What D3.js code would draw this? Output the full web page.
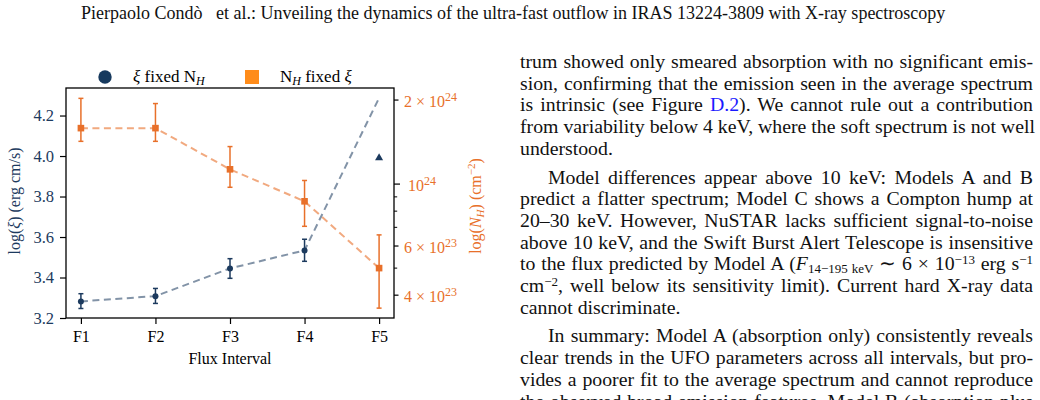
<!DOCTYPE html>
<html lang="en">
<head>
<meta charset="UTF-8"/>
<title>UFO flux intervals</title>
<script src="https://d3js.org/d3.v7.min.js"></script>
<style>
  body { margin: 0; background: #fff; width: 1040px; height: 400px; overflow: hidden; position: relative; font-family: "Liberation Serif", "Times New Roman", serif; }
  svg { position: absolute; left: 0; top: 0; }
  .header { position: absolute; left: 81px; top: 3px; font-size: 18px; white-space: pre; color: #111; }
  .col { position: absolute; left: 520px; top: 51px; width: 513px; font-size: 19.8px; line-height: 21.7px; color: #111; }
  .col .ln { white-space: nowrap; text-align: justify; text-align-last: justify; }
  .col .last { text-align-last: left; }
  .col .gap { margin-top: 7px; }
  .col .ind { padding-left: 28px; }
  .col sub, .col sup { line-height: 0; font-size: 13px; }
  .col sub { vertical-align: -3px; }
  .col sup { vertical-align: 6px; }
  .blue { color: #1a1aff; }
</style>
</head>
<body>

<div class="header">Pierpaolo Condò   et al.: Unveiling the dynamics of the ultra-fast outflow in IRAS 13224-3809 with X-ray spectroscopy</div>

<div class="col">
  <div class="ln">trum showed only smeared absorption with no significant emis-</div>
  <div class="ln">sion, confirming that the emission seen in the average spectrum</div>
  <div class="ln">is intrinsic (see Figure <span class="blue">D.2</span>). We cannot rule out a contribution</div>
  <div class="ln">from variability below 4 keV, where the soft spectrum is not well</div>
  <div class="ln last">understood.</div>
  <div class="ln gap ind">Model differences appear above 10 keV: Models A and B</div>
  <div class="ln">predict a flatter spectrum; Model C shows a Compton hump at</div>
  <div class="ln">20–30 keV. However, NuSTAR lacks sufficient signal-to-noise</div>
  <div class="ln">above 10 keV, and the Swift Burst Alert Telescope is insensitive</div>
  <div class="ln">to the flux predicted by Model A (<i>F</i><sub>14−195 keV</sub> ∼ 6 × 10<sup>−13</sup> erg s<sup>−1</sup></div>
  <div class="ln">cm<sup>−2</sup>, well below its sensitivity limit). Current hard X-ray data</div>
  <div class="ln last">cannot discriminate.</div>
  <div class="ln gap ind">In summary: Model A (absorption only) consistently reveals</div>
  <div class="ln">clear trends in the UFO parameters across all intervals, but pro-</div>
  <div class="ln">vides a poorer fit to the average spectrum and cannot reproduce</div>
  <div class="ln">the observed broad emission features. Model B (absorption plus</div>
</div>

<script>
// data
var intervals = ["F1", "F2", "F3", "F4", "F5"];

// log(xi) with fixed NH; F5 has only a limit (triangle), the line runs to xiLine[4]
var xiLine  = [3.282, 3.308, 3.445, 3.534, 4.287];
var xiVal   = [3.282, 3.308, 3.445, 3.534];
var xiLo    = [3.247, 3.272, 3.396, 3.480];
var xiHi    = [3.320, 3.346, 3.493, 3.589];
var xiLimit = 3.995;

// NH with fixed xi (cm^-2)
var nhVal = [1.58e24, 1.58e24, 1.125e24, 8.64e23, 4.98e23];
var nhLo  = [1.417e24, 1.417e24, 9.7e23, 7.03e23, 3.58e23];
var nhHi  = [2.02e24, 1.935e24, 1.357e24, 1.026e24, 6.55e23];

var xiTicks = [3.2, 3.4, 3.6, 3.8, 4.0, 4.2];
var nhLabelTicks = [4e23, 6e23, 1e24, 2e24];
var nhMinorTicks = [5e23, 7e23, 8e23, 9e23];

var navy = "#1c3a5e";
var orange = "#e8702a";

// plot box (note: "top" is taken by window.top)
var pl = 66, pr = 394, pt = 88, pb = 318;

var svg = d3.select("body").append("svg")
    .attr("width", 1040)
    .attr("height", 400)
    .style("font-family", "'Liberation Serif', 'Times New Roman', serif");

var x = d3.scalePoint().domain(intervals).range([pl, pr]).padding(0.2);
var yXi = d3.scaleLinear().domain([3.2, 4.336]).range([pb, pt]);
var yNh = d3.scaleLog().domain([3.30e23, 2.2e24]).range([pb, pt]);

// orange series (behind)
var nhLine = d3.line()
    .x(function(d, i) { return x(intervals[i]); })
    .y(function(d) { return yNh(d); });

svg.append("path")
    .datum(nhVal)
    .attr("d", nhLine)
    .attr("fill", "none")
    .attr("stroke", orange)
    .attr("stroke-opacity", 0.6)
    .attr("stroke-width", 2)
    .attr("stroke-dasharray", "7,4.5");

var nhG = svg.append("g");
nhVal.forEach(function(v, i) {
    var cx = x(intervals[i]);
    nhG.append("line").attr("x1", cx).attr("x2", cx)
        .attr("y1", yNh(nhLo[i])).attr("y2", yNh(nhHi[i]))
        .attr("stroke", orange).attr("stroke-width", 1.5);
    [nhLo[i], nhHi[i]].forEach(function(e) {
        nhG.append("line").attr("x1", cx - 2.5).attr("x2", cx + 2.5)
            .attr("y1", yNh(e)).attr("y2", yNh(e))
            .attr("stroke", orange).attr("stroke-width", 1.5);
    });
    nhG.append("rect")
        .attr("x", cx - 3.3).attr("y", yNh(v) - 3.3)
        .attr("width", 6.6).attr("height", 6.6)
        .attr("fill", orange);
});

// blue series
var xiPath = d3.line()
    .x(function(d, i) { return x(intervals[i]); })
    .y(function(d) { return yXi(d); });

svg.append("path")
    .datum(xiLine)
    .attr("d", xiPath)
    .attr("fill", "none")
    .attr("stroke", navy)
    .attr("stroke-opacity", 0.55)
    .attr("stroke-width", 2)
    .attr("stroke-dasharray", "7,4.5");

var xiG = svg.append("g");
xiVal.forEach(function(v, i) {
    var cx = x(intervals[i]);
    xiG.append("line").attr("x1", cx).attr("x2", cx)
        .attr("y1", yXi(xiLo[i])).attr("y2", yXi(xiHi[i]))
        .attr("stroke", navy).attr("stroke-width", 1.5);
    [xiLo[i], xiHi[i]].forEach(function(e) {
        xiG.append("line").attr("x1", cx - 2.5).attr("x2", cx + 2.5)
            .attr("y1", yXi(e)).attr("y2", yXi(e))
            .attr("stroke", navy).attr("stroke-width", 1.5);
    });
    xiG.append("circle")
        .attr("cx", cx).attr("cy", yXi(v)).attr("r", 3)
        .attr("fill", navy);
});

svg.append("path")
    .attr("d", d3.symbol().type(d3.symbolTriangle).size(28))
    .attr("transform", "translate(" + x("F5") + "," + (yXi(xiLimit) + 0.8) + ")")
    .attr("fill", navy);

// axes
var xAxis = d3.axisBottom(x).tickSize(6).tickPadding(7);
var gx = svg.append("g")
    .attr("transform", "translate(0," + pb + ")")
    .call(xAxis);
gx.select(".domain").remove();
gx.selectAll("line").attr("stroke", "#000").attr("stroke-width", 1.2);
gx.selectAll("text").attr("font-size", 16).attr("fill", "#000")
    .attr("font-family", "'Liberation Serif', serif");

var yAxisL = d3.axisLeft(yXi).tickValues(xiTicks)
    .tickFormat(d3.format(".1f")).tickSize(6).tickPadding(6);
var gyl = svg.append("g")
    .attr("transform", "translate(" + pl + ",0)")
    .call(yAxisL);
gyl.select(".domain").remove();
gyl.selectAll("line").attr("stroke", "#000").attr("stroke-width", 1.2);
gyl.selectAll("text").attr("font-size", 16.5).attr("fill", navy)
    .attr("font-family", "'Liberation Serif', serif");

var yAxisR = d3.axisRight(yNh).tickValues(nhLabelTicks)
    .tickFormat(function() { return ""; })
    .tickSize(6).tickPadding(7);
var gyr = svg.append("g")
    .attr("transform", "translate(" + pr + ",0)")
    .call(yAxisR);
gyr.select(".domain").remove();
gyr.selectAll("line").attr("stroke", "#000").attr("stroke-width", 1.2)
    .attr("x2", function(d) { return d === 1e24 ? 6 : 4.5; });

var yAxisRm = d3.axisRight(yNh).tickValues(nhMinorTicks)
    .tickFormat(function() { return ""; }).tickSize(3.2);
var gyrm = svg.append("g")
    .attr("transform", "translate(" + pr + ",0)")
    .call(yAxisRm);
gyrm.select(".domain").remove();
gyrm.selectAll("line").attr("stroke", "#000").attr("stroke-width", 1);

// right tick labels as mantissa x 10^exp
nhLabelTicks.forEach(function(t) {
    var exp = Math.floor(Math.log10(t) + 1e-9);
    var m = Math.round(t / Math.pow(10, exp));
    var tx = svg.append("text")
        .attr("x", pr + (m === 1 ? 14 : 10))
        .attr("y", yNh(t) + 7.5)
        .attr("font-size", 16)
        .attr("fill", orange);
    tx.append("tspan").text((m === 1 ? "" : m + " × ") + "10");
    tx.append("tspan").attr("dy", -6.5).attr("font-size", 12).text(exp);
});

// frame
svg.append("rect")
    .attr("x", pl).attr("y", pt)
    .attr("width", pr - pl).attr("height", pb - pt)
    .attr("fill", "none").attr("stroke", "#000").attr("stroke-width", 1.3);

// axis labels
svg.append("text")
    .attr("x", (pl + pr) / 2)
    .attr("y", 364)
    .attr("text-anchor", "middle")
    .attr("font-size", 16)
    .attr("fill", "#000")
    .text("Flux Interval");

var yl = svg.append("text")
    .attr("transform", "translate(20,201) rotate(-90)")
    .attr("text-anchor", "middle")
    .attr("font-size", 16)
    .attr("fill", navy);
yl.append("tspan").text("log(");
yl.append("tspan").attr("font-style", "italic").text("ξ");
yl.append("tspan").text(") (erg cm/s)");

var yr = svg.append("text")
    .attr("transform", "translate(481,206) rotate(-90)")
    .attr("text-anchor", "middle")
    .attr("font-size", 16)
    .attr("fill", orange);
yr.append("tspan").text("log(");
yr.append("tspan").attr("font-style", "italic").text("N");
yr.append("tspan").attr("font-style", "italic").attr("font-size", 11).attr("dy", 3).text("H");
yr.append("tspan").attr("dy", -3).text(") (cm");
yr.append("tspan").attr("font-size", 11).attr("dy", -6).text("−2");
yr.append("tspan").attr("dy", 6).text(")");

// legend
svg.append("circle").attr("cx", 105).attr("cy", 77).attr("r", 6.7).attr("fill", "#173a5e");
var l1 = svg.append("text").attr("x", 133).attr("y", 82).attr("font-size", 17).attr("fill", "#000");
l1.append("tspan").attr("font-style", "italic").text("ξ");
l1.append("tspan").text(" fixed N");
l1.append("tspan").attr("font-style", "italic").attr("font-size", 12).attr("dy", 3).text("H");

svg.append("rect").attr("x", 245).attr("y", 70).attr("width", 14).attr("height", 14).attr("fill", "#ff8c1a");
var l2 = svg.append("text").attr("x", 280).attr("y", 82).attr("font-size", 17).attr("fill", "#000");
l2.append("tspan").text("N");
l2.append("tspan").attr("font-style", "italic").attr("font-size", 12).attr("dy", 3).text("H");
l2.append("tspan").attr("dy", -3).text(" fixed ");
l2.append("tspan").attr("font-style", "italic").text("ξ");
</script>

</body>
</html>
